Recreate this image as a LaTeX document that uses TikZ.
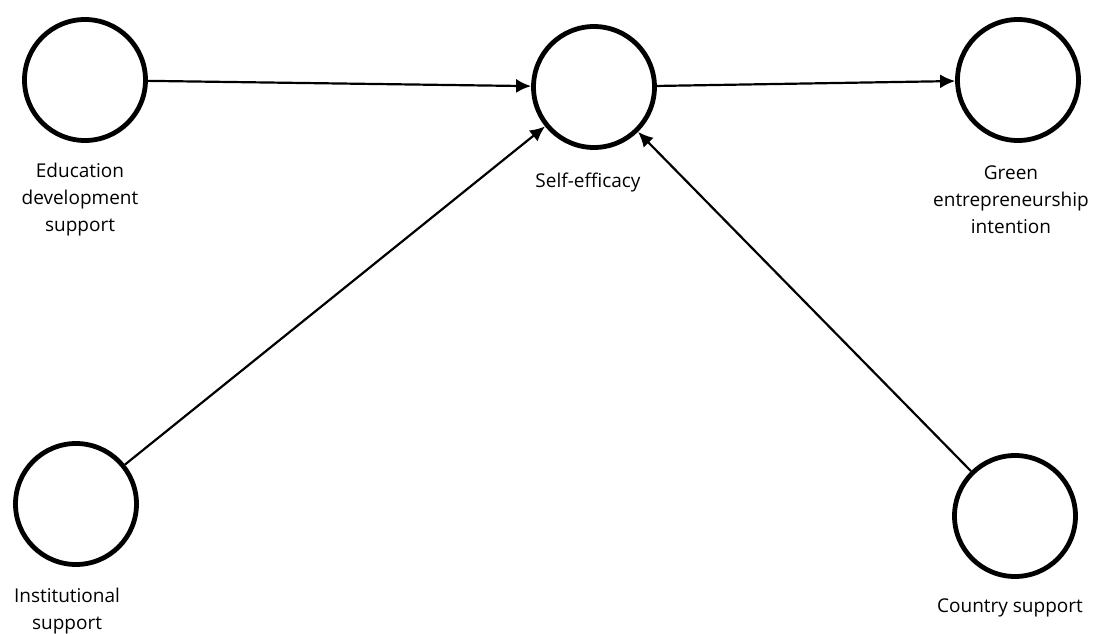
\documentclass[tikz,border=0pt]{standalone}
\usepackage{fontspec}
\setmainfont{Open Sans}
\usepackage{tikz}
\usetikzlibrary{arrows.meta,positioning}

\begin{document}
\begin{tikzpicture}[x=1pt, y=-1pt,
        lv/.style={draw, circle, line width=4.8pt, minimum size=121pt, inner sep=0pt},
        lbl/.style={align=center, font=\fontsize{19}{27}\selectfont},
        arr/.style={-{Latex[length=15pt, width=14pt]}, line width=2.2pt}
    ]
        \useasboundingbox (0,0) rectangle (1093,634);

        % ── Latent variables ─────────────────────────────────────────────
        \node[lv] (edu)  at (85,   80)  {};
        \node[lv] (self) at (594,  87)  {};
        \node[lv] (gei)  at (1018, 80)  {};
        \node[lv] (inst) at (76,  504)  {};
        \node[lv] (ctry) at (1015, 516) {};

        % ── Labels under the circles ─────────────────────────────────────
        \node[lbl] (edulbl)  at (80,   200) {Education\\development\\support};
        \node[lbl] (selflbl) at (588,  183) {Self-efficacy};
        \node[lbl] (geilbl)  at (1011, 200) {Green\\entrepreneurship\\intention};
        \node[lbl] (instlbl) at (67,   611) {Institutional\\support};
        \node[lbl] (ctrylbl) at (1010, 608) {Country support};

        % ── Paths ────────────────────────────────────────────────────────
        \draw[arr] (edu)  -- (self);
        \draw[arr] (self) -- (gei);
        \draw[arr] (inst) -- (self);
        \draw[arr] (ctry) -- (self);

    \end{tikzpicture}
\end{document}
